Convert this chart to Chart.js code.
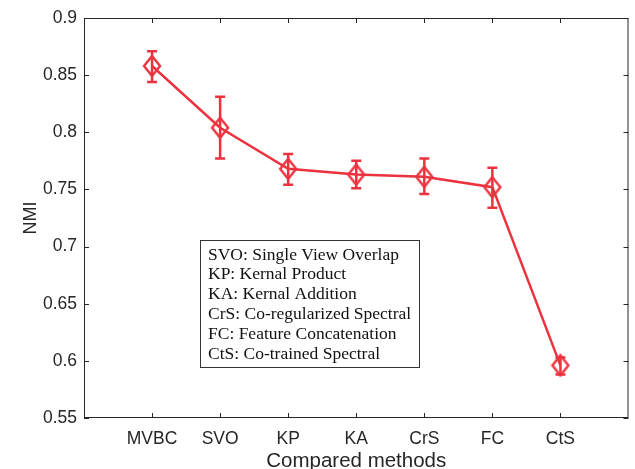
<!DOCTYPE html>
<html>
<head>
<meta charset="utf-8">
<script src="https://cdn.jsdelivr.net/npm/chart.js@4.4.1/dist/chart.umd.min.js"></script>
<style>
  html, body { margin: 0; padding: 0; background: #fff; }
  #wrap { width: 635px; height: 469px; }
</style>
</head>
<body>
<div id="wrap"><canvas id="canvas"></canvas></div>
<script>
const categories = ['MVBC', 'SVO', 'KP', 'KA', 'CrS', 'FC', 'CtS']
const nmiMean  = [0.858, 0.804, 0.768, 0.763, 0.761, 0.752, 0.596]
const nmiUpper = [0.871, 0.831, 0.781, 0.775, 0.777, 0.769, 0.603]
const nmiLower = [0.844, 0.777, 0.754, 0.751, 0.746, 0.734, 0.588]
const yTicks = [0.55, 0.6, 0.65, 0.7, 0.75, 0.8, 0.85, 0.9]
const notes = [
    'SVO: Single View Overlap',
    'KP: Kernal Product',
    'KA: Kernal Addition',
    'CrS: Co-regularized Spectral',
    'FC: Feature Concatenation',
    'CtS: Co-trained Spectral'
]

const red = 'rgb(236,50,62)'
const axisColor = '#262626'
const sans = '"Liberation Sans", Arial, sans-serif'

// taller-than-wide diamond marker, like matlab's 'd'
function diamond() {
    const c = document.createElement('canvas')
    c.width = 20
    c.height = 24
    const g = c.getContext('2d')
    g.strokeStyle = red
    g.lineWidth = 2.4
    g.beginPath()
    g.moveTo(10, 2)
    g.lineTo(18, 12)
    g.lineTo(10, 22)
    g.lineTo(2, 12)
    g.closePath()
    g.stroke()
    return c
}

const errorBars = {
    id: 'errorBars',
    afterDatasetsDraw(chart) {
        const {ctx, scales: {x, y}} = chart
        ctx.save()
        ctx.strokeStyle = red
        ctx.lineWidth = 2.5
        categories.forEach((c, i) => {
            const px = x.getPixelForValue(i + 1)
            const top = y.getPixelForValue(nmiUpper[i])
            const bot = y.getPixelForValue(nmiLower[i])
            ctx.beginPath()
            ctx.moveTo(px, top); ctx.lineTo(px, bot)
            ctx.moveTo(px - 5, top); ctx.lineTo(px + 5, top)
            ctx.moveTo(px - 5, bot); ctx.lineTo(px + 5, bot)
            ctx.stroke()
        })
        ctx.restore()
    }
}

const frame = {
    id: 'frame',
    afterDraw(chart) {
        const {ctx, chartArea: a, scales: {x, y}} = chart
        ctx.save()
        ctx.strokeStyle = axisColor
        ctx.lineWidth = 1
        ctx.strokeRect(a.left + 0.5, a.top + 0.5, a.right - a.left - 1, a.bottom - a.top - 1)
        ctx.beginPath()
        yTicks.forEach(v => {
            const py = Math.round(y.getPixelForValue(v)) + 0.5
            ctx.moveTo(a.left, py); ctx.lineTo(a.left + 5, py)
            ctx.moveTo(a.right, py); ctx.lineTo(a.right - 5, py)
        })
        categories.forEach((c, i) => {
            const px = Math.round(x.getPixelForValue(i + 1)) + 0.5
            ctx.moveTo(px, a.bottom); ctx.lineTo(px, a.bottom - 5)
            ctx.moveTo(px, a.top); ctx.lineTo(px, a.top + 5)
        })
        ctx.stroke()

        // text box with abbreviations
        const bx = a.left + 116, by = a.top + 222, bw = 219, bh = 127
        ctx.fillStyle = '#fff'
        ctx.fillRect(bx, by, bw, bh)
        ctx.strokeStyle = '#333'
        ctx.strokeRect(bx + 0.5, by + 0.5, bw, bh)
        ctx.fillStyle = '#111'
        ctx.font = '17.5px "Liberation Serif", "Times New Roman", serif'
        ctx.textBaseline = 'middle'
        notes.forEach((t, i) => ctx.fillText(t, bx + 8, by + 15 + i * 19.8))
        ctx.restore()
    }
}

const data = {
    datasets: [{
        label: 'NMI',
        data: nmiMean.map((v, i) => ({x: i + 1, y: v})),
        borderColor: red,
        backgroundColor: red,
        borderWidth: 2.5,
        pointStyle: diamond(),
        tension: 0,
    }]
}

const config = {
    type: 'line',
    data: data,
    plugins: [errorBars, frame],
    options: {
        responsive: true,
        maintainAspectRatio: false,
        animation: false,
        layout: {padding: {top: 18, right: 2, left: 0, bottom: 0}},
        plugins: {legend: {display: false}, tooltip: {enabled: false}},
        scales: {
            x: {
                type: 'linear',
                min: 0,
                max: 8,
                grid: {display: false, drawTicks: false},
                border: {display: false},
                afterBuildTicks: s => { s.ticks = categories.map((c, i) => ({value: i + 1})) },
                afterFit: s => { s.height = 51 },
                ticks: {
                    autoSkip: false,
                    maxRotation: 0,
                    padding: 11,
                    color: axisColor,
                    font: {family: sans, size: 17.5},
                    callback: v => categories[v - 1]
                },
                title: {
                    display: true,
                    text: 'Compared methods',
                    color: axisColor,
                    padding: {top: 0, bottom: -5},
                    font: {family: sans, size: 20.5}
                }
            },
            y: {
                min: 0.55,
                max: 0.9,
                grid: {display: false, drawTicks: false},
                border: {display: false},
                afterBuildTicks: s => { s.ticks = yTicks.map(v => ({value: v})) },
                afterFit: s => { s.width = 84 },
                ticks: {
                    padding: 7,
                    color: axisColor,
                    font: {family: sans, size: 17.5},
                    callback: v => String(+v.toFixed(2))
                },
                title: {
                    display: true,
                    text: 'NMI',
                    color: axisColor,
                    padding: {top: 20, bottom: 0},
                    font: {family: sans, size: 18}
                }
            }
        }
    }
}
const canvas = document.getElementById('canvas')
const chart = new Chart(canvas, config)
</script>
</body>
</html>
